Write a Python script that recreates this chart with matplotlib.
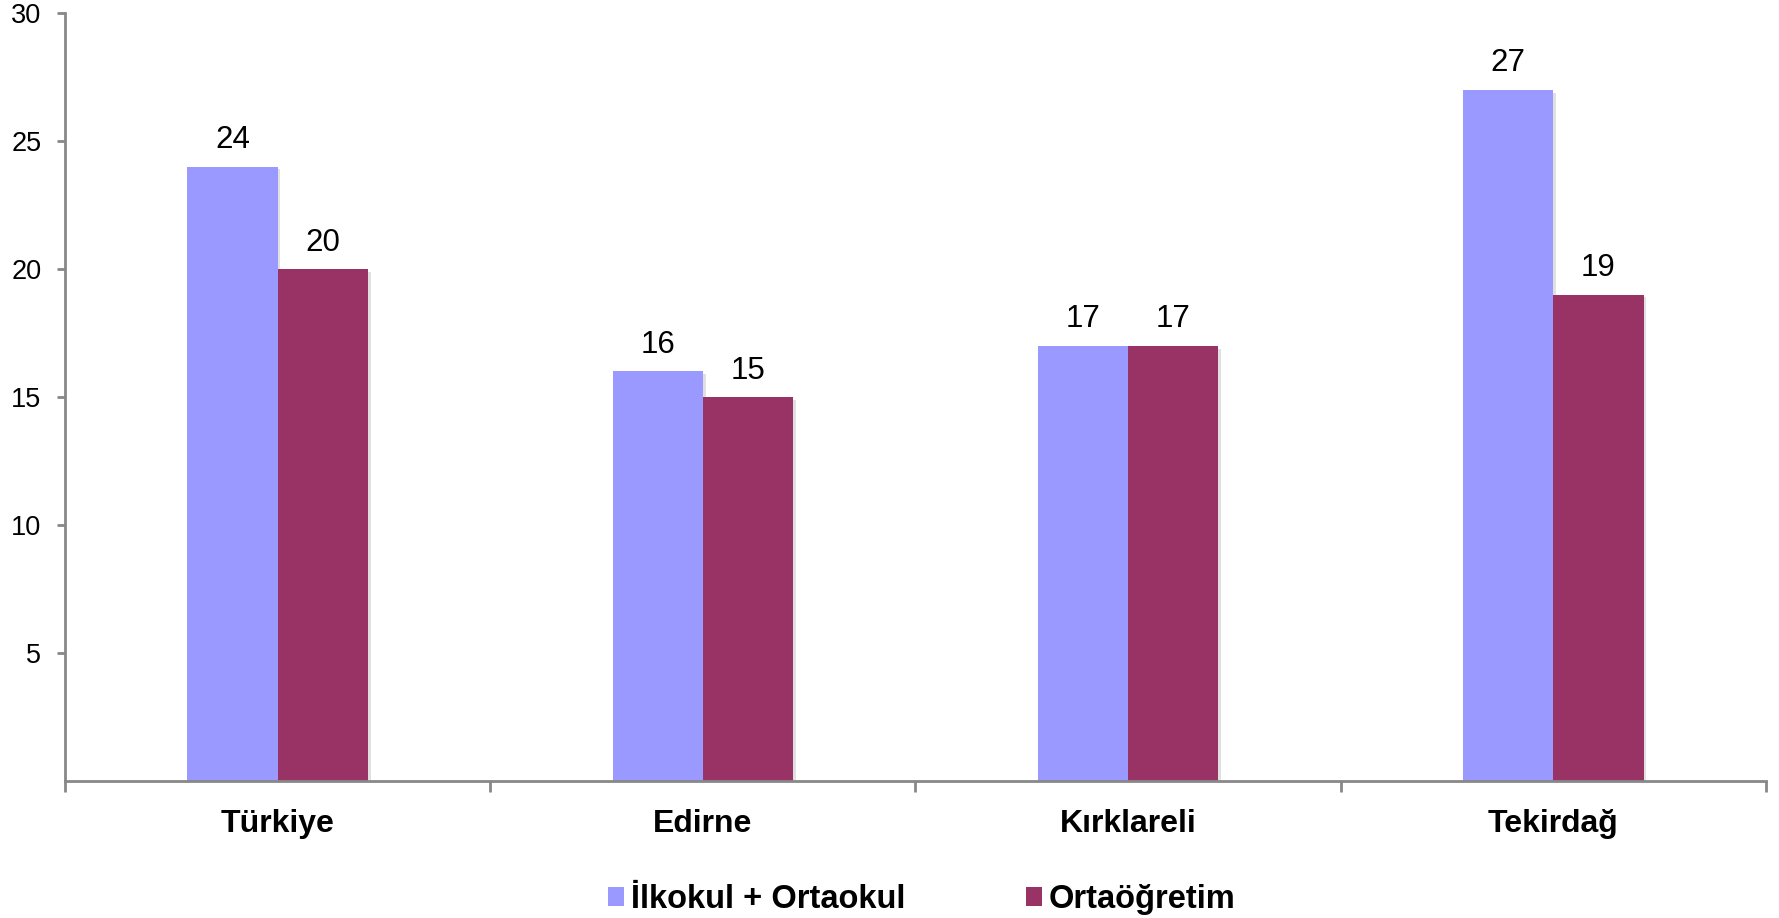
import numpy as np
import matplotlib
matplotlib.use('Agg')
import matplotlib.pyplot as plt
from matplotlib.patches import Patch
import matplotlib.patheffects as pe

plt.rcParams['font.family'] = ['Liberation Sans', 'DejaVu Sans']

# data
provinces = ['Türkiye', 'Edirne', 'Kırklareli', 'Tekirdağ']
ilk_orta = [24, 16, 17, 27]
ortaogretim = [20, 15, 17, 19]
series_names = ['İlkokul + Ortaokul', 'Ortaöğretim']
colors = ['#9999FF', '#993366']

fig = plt.figure(figsize=(17.79, 9.18), dpi=100)
ax = fig.add_axes([0.0365, 0.1492, 0.9562, 0.8366])

x = np.arange(len(provinces))
w = 0.212
shadow = [pe.SimplePatchShadow(offset=(2, -2), shadow_rgbFace='#000000', alpha=0.12), pe.Normal()]
b1 = ax.bar(x - w / 2, ilk_orta, w, color=colors[0], path_effects=shadow, zorder=2)
b2 = ax.bar(x + w / 2, ortaogretim, w, color=colors[1], path_effects=shadow, zorder=2)

for bars, vals in [(b1, ilk_orta), (b2, ortaogretim)]:
    for b, v in zip(bars, vals):
        ax.text(b.get_x() + b.get_width() / 2, v + 0.45, str(v),
                ha='center', va='bottom', fontsize=22.5)

ax.set_xlim(-0.5, 3.5)
ax.set_ylim(0, 30)
ax.set_yticks([5, 10, 15, 20, 25, 30])
ax.set_xticks([-0.5, 0.5, 1.5, 2.5, 3.5])
ax.set_xticklabels([])
ax.set_xticks(x, minor=True)
ax.set_xticklabels(provinces, minor=True, fontsize=23, fontweight='bold')
ax.tick_params(axis='x', which='minor', length=0, pad=20)
ax.tick_params(axis='x', which='major', length=8, width=2, color='#888888', direction='out')
ax.tick_params(axis='y', length=6, width=2, color='#888888', labelsize=19.5, pad=11)

for s in ['top', 'right']:
    ax.spines[s].set_visible(False)
for s in ['left', 'bottom']:
    ax.spines[s].set_color('#888888')
    ax.spines[s].set_linewidth(2)

handles = [Patch(facecolor=c, edgecolor='none') for c in colors]
fig.legend(handles, series_names, loc='center', bbox_to_anchor=(0.518, 0.02),
           ncol=2, frameon=False, handlelength=0.5, handleheight=0.5,
           handletextpad=0.2, columnspacing=3.7,
           prop={'size': 23.5, 'weight': 'bold'})

fig.savefig('out.png', dpi=100)
